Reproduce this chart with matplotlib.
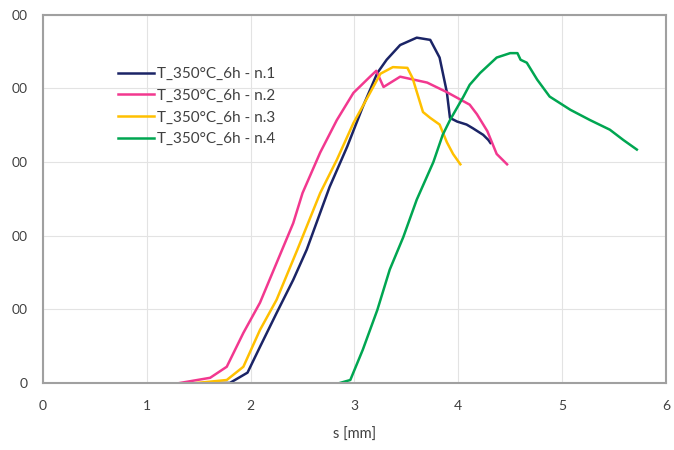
import matplotlib
matplotlib.use("Agg")
import matplotlib.pyplot as plt

plt.rcParams['font.family'] = ['Lato', 'DejaVu Sans']

# n.1
s1 = [1.61, 1.80, 1.97, 2.09, 2.25, 2.41, 2.54, 2.76, 2.93, 3.08, 3.22, 3.31, 3.44, 3.60, 3.73,
      3.82, 3.89, 3.92, 3.99, 4.08, 4.14, 4.24, 4.29, 4.31]
f1 = [0, 0, 14, 49, 95, 140, 181, 266, 321, 375, 421, 439, 459, 469, 466,
      442, 395, 360, 355, 351, 346, 337, 330, 326]
# n.2
s2 = [1.32, 1.61, 1.77, 1.93, 2.09, 2.25, 2.41, 2.50, 2.67, 2.83, 2.99, 3.15, 3.21, 3.28, 3.44,
      3.70, 3.89, 4.11, 4.18, 4.28, 4.37, 4.47]
f2 = [0, 7, 22, 68, 109, 163, 217, 258, 313, 357, 394, 416, 424, 402, 416,
      408, 395, 378, 365, 342, 311, 297]
# n.3
s3 = [1.48, 1.77, 1.93, 2.09, 2.25, 2.45, 2.67, 2.83, 2.99, 3.15, 3.25, 3.37, 3.51, 3.56,
      3.66, 3.73, 3.82, 3.89, 3.95, 4.02]
f3 = [0, 4, 22, 72, 113, 181, 258, 303, 353, 394, 420, 429, 428, 414,
      368, 360, 351, 327, 311, 297]
# n.4
s4 = [2.86, 2.96, 3.08, 3.22, 3.34, 3.47, 3.60, 3.76, 3.85, 3.92, 4.05, 4.11, 4.21, 4.37, 4.50,
      4.57, 4.60, 4.66, 4.76, 4.88, 5.08, 5.27, 5.46, 5.59, 5.72]
f4 = [0, 4, 45, 99, 154, 198, 249, 300, 337, 357, 389, 405, 421, 442, 448,
      448, 439, 435, 412, 389, 371, 357, 344, 330, 317]

labels = ["T_350°C_6h - n.1", "T_350°C_6h - n.2", "T_350°C_6h - n.3", "T_350°C_6h - n.4"]
colors = ["#1B2466", "#F2388F", "#FFC000", "#00A651"]

yticks = [0, 100, 200, 300, 400, 500]
ytick_labels = ["0", "00", "00", "00", "00", "00"]
xticks = [0, 1, 2, 3, 4, 5, 6]

fig = plt.figure(figsize=(6.74, 4.5), dpi=100)
ax = fig.add_axes([0.0638, 0.149, 0.9242, 0.818])

for s, f, lab, c in zip([s1, s2, s3, s4], [f1, f2, f3, f4], labels, colors):
    ax.plot(s, f, color=c, lw=1.8, label=lab)

ax.set_xlim(0, 6)
ax.set_ylim(0, 500)
ax.set_xticks(xticks)
ax.set_yticks(yticks)
ax.set_yticklabels(ytick_labels)
ax.tick_params(length=0, labelsize=10, colors="#404040")
ax.tick_params(axis='x', pad=12)
ax.tick_params(axis='y', pad=11)
ax.grid(True, color="#E3E3E3", lw=0.8)
ax.set_axisbelow(True)
for sp in ax.spines.values():
    sp.set_color("#A0A0A0")
    sp.set_linewidth(1.5)

ax.set_xlabel("s [mm]", fontsize=10.5, color="#404040", labelpad=12)

ax.legend(loc="upper left", bbox_to_anchor=(0.12, 0.858), frameon=False,
          fontsize=11, handlelength=2.4, handletextpad=0.2, labelspacing=0.5,
          borderpad=0, borderaxespad=0, labelcolor="#404040")

fig.savefig("out.png", dpi=100)
